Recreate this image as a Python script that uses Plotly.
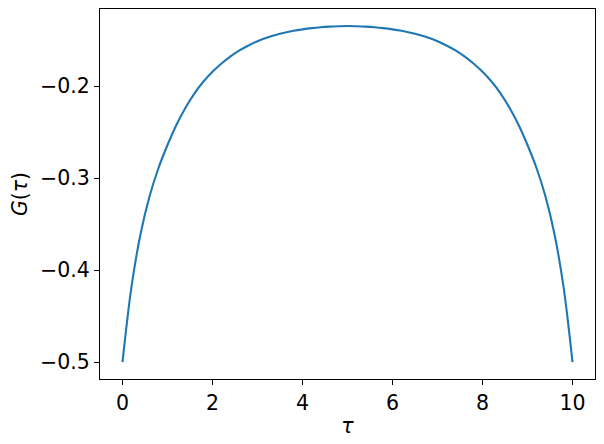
import plotly.graph_objects as go

# imaginary-time points (step 0.2)
tau = [0.0, 0.2, 0.4, 0.6, 0.8, 1.0, 1.2, 1.4, 1.6, 1.8, 2.0, 2.2, 2.4, 2.6, 2.8, 3.0, 3.2, 3.4, 3.6, 3.8,
       4.0, 4.2, 4.4, 4.6, 4.8, 5.0, 5.2, 5.4, 5.6, 5.8, 6.0, 6.2, 6.4, 6.6, 6.8, 7.0, 7.2, 7.4, 7.6, 7.8,
       8.0, 8.2, 8.4, 8.6, 8.8, 9.0, 9.2, 9.4, 9.6, 9.8, 10.0]
g_tau = [-0.500, -0.418, -0.361, -0.320, -0.289, -0.264, -0.242, -0.2235, -0.2078, -0.195,
         -0.1845, -0.1755, -0.1677, -0.1612, -0.1558, -0.1512, -0.1475, -0.1444, -0.1419, -0.1399,
         -0.1383, -0.1370, -0.1360, -0.1353, -0.1349, -0.1347, -0.1349, -0.1353, -0.1360, -0.1370,
         -0.1383, -0.1399, -0.1419, -0.1444, -0.1475, -0.1512, -0.1558, -0.1612, -0.1677, -0.1755,
         -0.1845, -0.195, -0.2078, -0.2235, -0.242, -0.264, -0.289, -0.320, -0.361, -0.418, -0.500]

x_ticks = [0, 2, 4, 6, 8, 10]
y_ticks = [-0.5, -0.4, -0.3, -0.2]

FONT = 'DejaVu Sans'
SIZE = 20.5

fig = go.Figure()
fig.add_trace(go.Scatter(x=tau, y=g_tau, mode='lines',
                         line=dict(color='#1f77b4', width=2.1, shape='spline', smoothing=1.0)))

axis_style = dict(showline=True, linecolor='black', linewidth=1.1, mirror=True,
                  ticks='outside', ticklen=5, tickwidth=1.1, tickcolor='black',
                  showgrid=False, zeroline=False, automargin=False,
                  tickfont=dict(family=FONT, size=SIZE, color='black'))

fig.update_xaxes(range=[-0.5, 10.5], tickvals=x_ticks, ticktext=[str(v) for v in x_ticks],
                 title=dict(text='<i>τ</i>', font=dict(family=FONT, size=SIZE, color='black'), standoff=4),
                 **axis_style)
fig.update_yaxes(range=[-0.5183, -0.1162], tickvals=y_ticks,
                 ticktext=['\u2212' + f'{abs(v):.1f}' for v in y_ticks],
                 title=dict(text='<i>G</i>(<i>τ</i>)', font=dict(family=FONT, size=SIZE, color='black'), standoff=6),
                 **axis_style)

# page body adds ~8px offset, so margins are shifted to keep the plot area in place
fig.update_layout(width=604, height=444,
                  margin=dict(l=92, r=17, t=1, b=73),
                  plot_bgcolor='white', paper_bgcolor='white',
                  showlegend=False)

fig.write_html("out.html")
